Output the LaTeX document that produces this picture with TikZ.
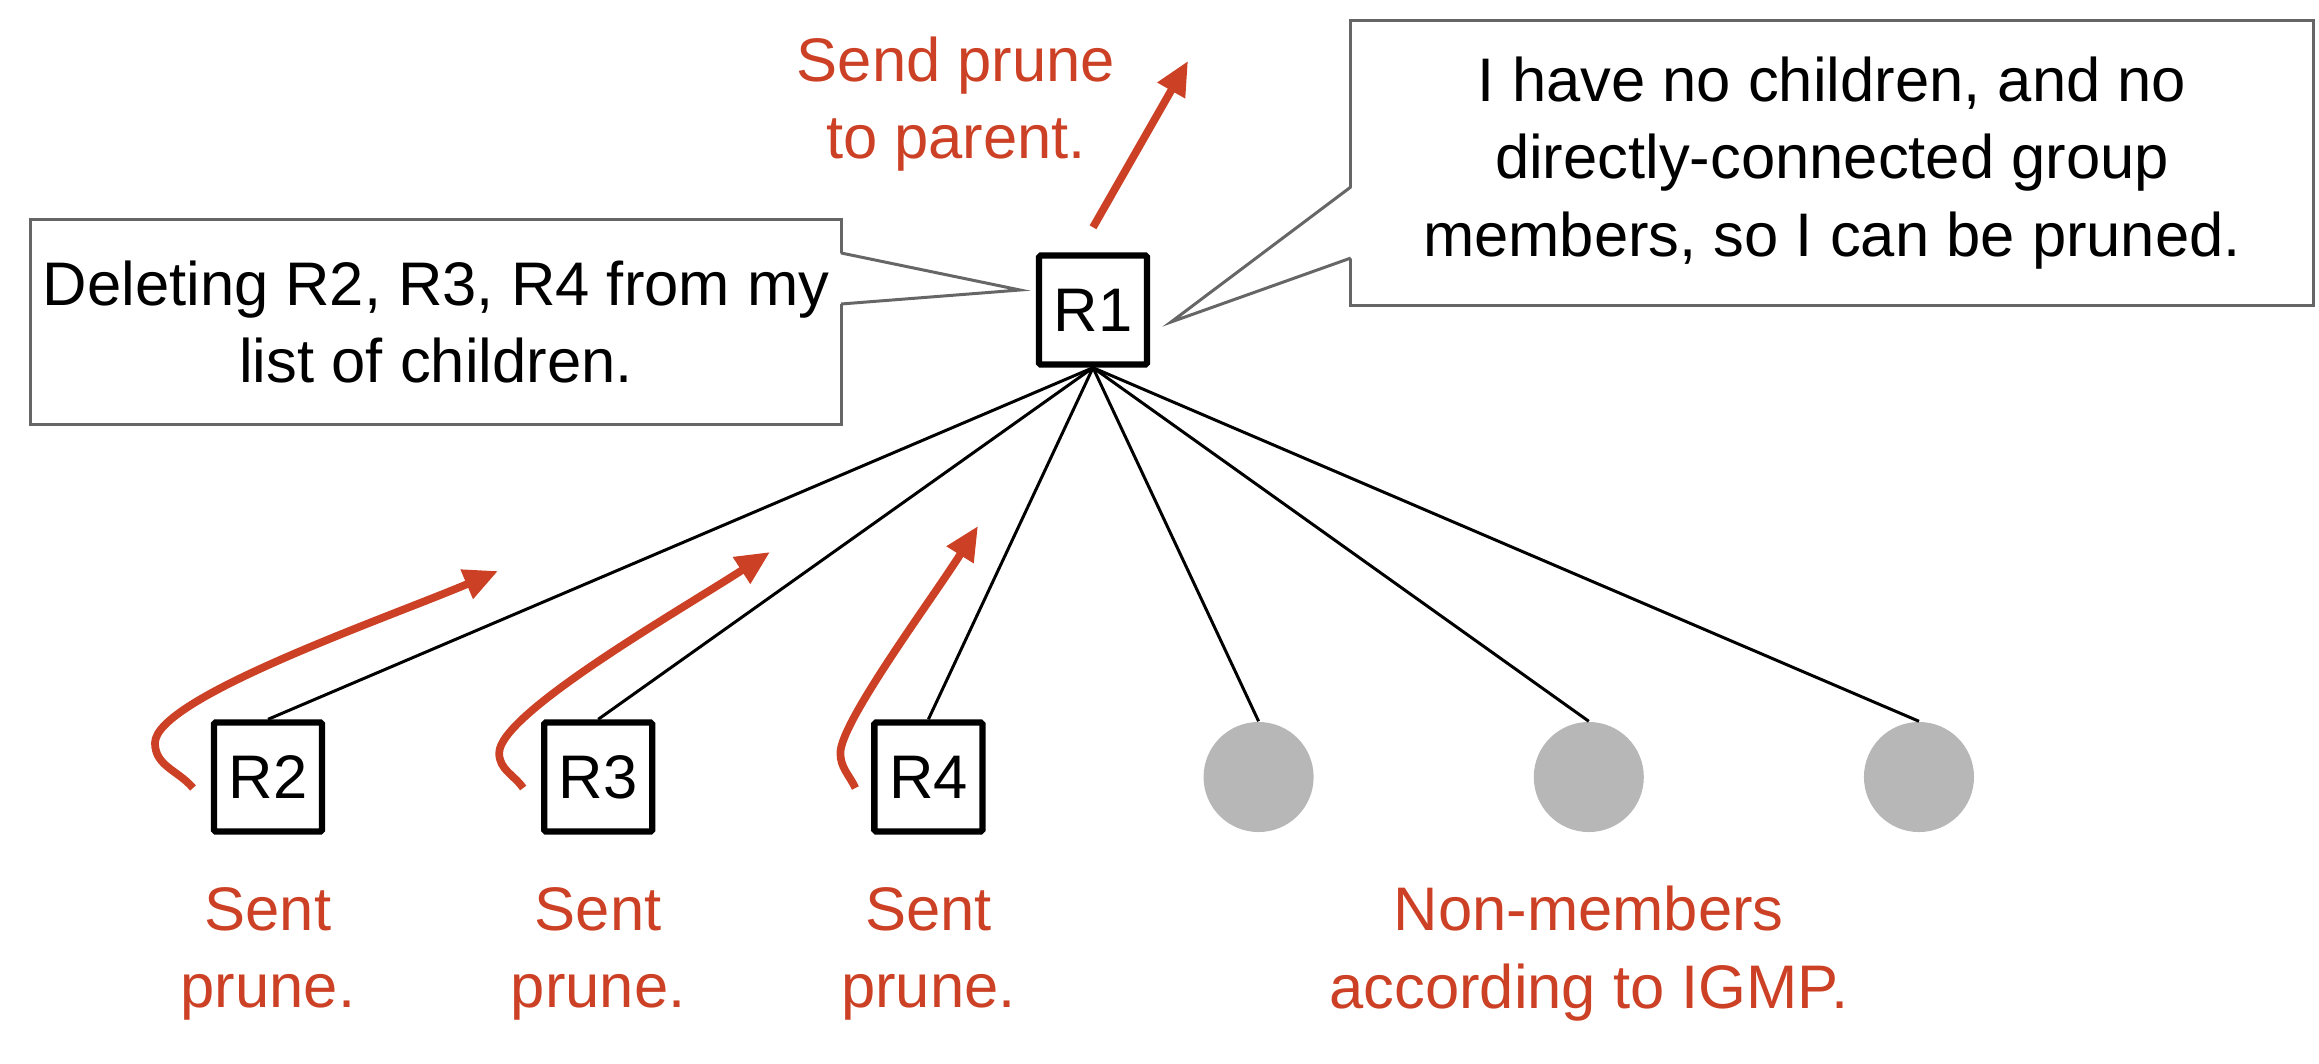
\documentclass[tikz,border=0pt]{standalone}
\usepackage{fontspec}
\setmainfont{Liberation Sans}
\usetikzlibrary{arrows.meta,positioning}
\definecolor{prunered}{HTML}{CC4125}
\definecolor{notegray}{HTML}{666666}
\definecolor{hostgray}{HTML}{B7B7B7}
\tikzset{
	x=0.01cm, y=0.01cm,
	node distance=3.3cm,
	on grid,
	>={Triangle[length=0.34cm,width=0.3cm]}, % filled heads
	font=\fontsize{17.5}{22}\selectfont,
	router/.style={draw, line width=1.8pt, minimum width=1.08cm, minimum height=1.09cm, inner sep=0pt, rounded corners=0.5pt, fill=white},
	host/.style={circle, fill=hostgray, minimum size=1.1cm, inner sep=0pt},
	link/.style={line width=0.85pt},
	prune/.style={->, draw=prunered, line width=2.2pt},
	note/.style={draw=notegray, line width=0.85pt, outer sep=0pt, align=center, fill=white},
	pointer/.style={draw=notegray, line width=0.85pt},
	tag/.style={text=prunered, align=center, inner sep=0pt},
}

\begin{document}
\begin{tikzpicture}
  \useasboundingbox (0,0) rectangle (2319,-1063);

  % routers and hosts
  \node[router] (R1) at (1093,-310) {R1};
  \node[router] (R2) at (268,-777) {R2};
  \node[router, right=of R2] (R3) {R3};
  \node[router, right=of R3] (R4) {R4};
  \node[host, right=of R4] (H1) {};
  \node[host, right=of H1] (H2) {};
  \node[host, right=of H2] (H3) {};

  \foreach \n in {R2,R3,R4,H1,H2,H3}
    \draw[link] (R1.south) -- (\n.north);

  % speech bubbles
  \node[note, minimum width=7.93cm, minimum height=2.05cm] (del) at (436,-322)
    {Deleting R2, R3, R4 from my\\list of children.};
  \node[note, minimum width=9.62cm, minimum height=2.85cm] (leaf) at (1832,-163)
    {I have no children, and no\\directly-connected group\\members, so I can be pruned.};
  \coordinate (delTip) at ([shift={(-73,20)}]R1.center);
  \coordinate (leafTip) at ([shift={(78,-12)}]R1.center);
  \fill[white] ([shift={(-2,69)}]del.east) -- (delTip) -- ([shift={(-2,18)}]del.east) -- cycle;
  \draw[pointer] ([yshift=0.69cm]del.east) -- (delTip) -- ([yshift=0.18cm]del.east);
  \fill[white] ([shift={(2,-24)}]leaf.west) -- (leafTip) -- ([shift={(2,-95)}]leaf.west) -- cycle;
  \draw[pointer] ([yshift=-0.24cm]leaf.west) -- (leafTip) -- ([yshift=-0.95cm]leaf.west);

  % prune messages
  \node[tag] (up) at (956,-104) {Send prune\\to parent.};
  \coordinate (parent) at (1188,-61);
  \draw[prune] ([yshift=0.25cm]R1.north) -- (parent);

  \coordinate (t2) at (498,-571);
  \coordinate (t3) at (770,-552);
  \coordinate (t4) at (978,-526);
  \draw[prune] ([shift={(-75,-11)}]R2.center) to[out=130,in=270] ++(-38,45)
    to[out=90,in=203,out looseness=0.3,in looseness=0.8] (t2);
  \draw[prune] ([shift={(-75,-11)}]R3.center) to[out=125,in=270] ++(-24,35)
    to[out=90,in=213,out looseness=0.3,in looseness=0.8] (t3);
  \draw[prune] ([shift={(-73,-11)}]R4.center) to[out=115,in=270] ++(-15,35)
    to[out=90,in=238,out looseness=0.3,in looseness=0.8] (t4);

  \node[tag, below=1.765cm of R2] (sent2) {Sent\\prune.};
  \node[tag, below=1.765cm of R3] (sent3) {Sent\\prune.};
  \node[tag, below=1.765cm of R4] (sent4) {Sent\\prune.};
  \node[tag, below=1.765cm of H2] (igmp) {Non-members\\according to IGMP.};
\end{tikzpicture}
\end{document}
